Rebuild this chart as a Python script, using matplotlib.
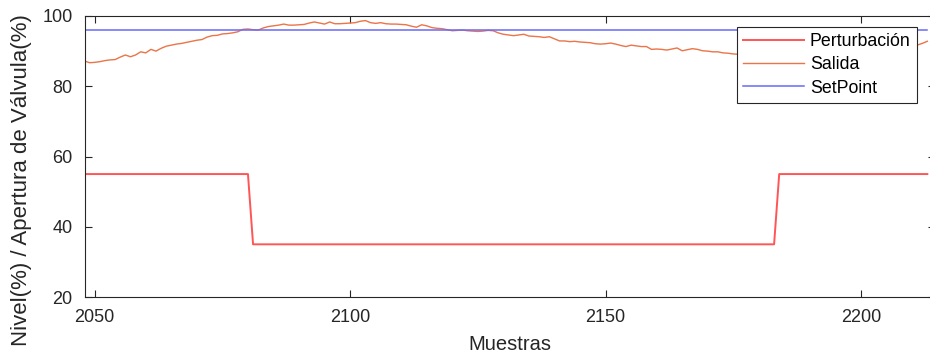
import matplotlib
matplotlib.use('Agg')
import matplotlib.pyplot as plt
import numpy as np

plt.rcParams['font.family'] = ['Liberation Sans', 'DejaVu Sans']

# Sample range shown
muestras = np.arange(2048, 2214)

# Level output (one value per sample)
salida = [
    87.2, 86.7, 86.8, 87.0, 87.3, 87.5, 87.6, 88.3, 88.9, 88.4,   # 2048-2057
    88.9, 89.8, 89.5, 90.5, 90.0, 90.8, 91.4, 91.7, 92.0, 92.2,   # 2058-2067
    92.5, 92.8, 93.1, 93.3, 94.0, 94.4, 94.5, 94.9, 95.0, 95.2,   # 2068-2077
    95.5, 96.2, 96.3, 96.1, 96.0, 96.6, 97.0, 97.2, 97.4, 97.7,   # 2078-2087
    97.4, 97.4, 97.5, 97.6, 98.0, 98.3, 98.0, 97.7, 98.3, 97.8,   # 2088-2097
    97.8, 97.9, 98.0, 98.1, 98.5, 98.7, 98.1, 97.9, 98.1, 97.8,   # 2098-2107
    97.7, 97.7, 97.6, 97.5, 97.1, 96.8, 97.5, 97.2, 96.7, 96.5,   # 2108-2117
    96.4, 96.1, 95.8, 95.9, 96.0, 95.8, 95.7, 95.6, 95.7, 95.9,   # 2118-2127
    95.8, 95.2, 94.8, 94.6, 94.4, 94.6, 94.8, 94.3, 94.2, 94.1,   # 2128-2137
    93.9, 94.1, 93.5, 92.9, 92.9, 92.7, 92.8, 92.6, 92.5, 92.4,   # 2138-2147
    92.1, 92.0, 92.1, 92.3, 92.0, 91.6, 91.3, 91.7, 91.5, 91.3,   # 2148-2157
    91.3, 90.5, 90.6, 90.5, 90.3, 90.6, 90.9, 90.1, 90.4, 90.7,   # 2158-2167
    90.5, 90.1, 90.0, 89.8, 89.8, 89.5, 89.4, 89.2, 89.1, 88.9,   # 2168-2177
    88.7, 88.6, 88.4, 88.3, 88.1, 88.0, 87.8, 87.7, 87.8, 87.6,   # 2178-2187
    87.7, 87.9, 88.0, 88.1, 88.4, 88.6, 88.8, 89.0, 89.2, 89.5,   # 2188-2197
    89.7, 89.9, 90.1, 90.3, 90.5, 90.7, 90.9, 91.0, 91.2, 91.3,   # 2198-2207
    91.5, 91.5, 91.6, 91.7, 92.2, 92.8,                           # 2208-2213
]

# Disturbance (valve opening) levels and where they change
pert_alta = 55
pert_baja = 35
paso_bajada = 2081
paso_subida = 2184
perturbacion = np.where((muestras >= paso_bajada) & (muestras < paso_subida), pert_baja, pert_alta)

setpoint = 96

xticks = [2050, 2100, 2150, 2200]
yticks = [20, 40, 60, 80, 100]

fig = plt.figure(figsize=(9.3, 3.59), dpi=100)
ax = fig.add_axes([85 / 930, 62 / 359, 850 / 930, 281 / 359])

ax.plot(muestras, perturbacion, color='#FF5555', linewidth=1.4, label='Perturbación')
ax.plot(muestras, salida, color='#EB7448', linewidth=1.0, label='Salida')
ax.plot(muestras, np.full(len(muestras), setpoint), color='#6A6AF8', linewidth=1.1, label='SetPoint')

ax.set_xlim(2048.1, 2214.5)
ax.set_ylim(20, 100)
ax.set_xticks(xticks)
ax.set_yticks(yticks)
ax.tick_params(direction='in', length=5, width=0.8, colors='#262626', labelsize=13,
               top=True, right=True, pad=9)
for s in ax.spines.values():
    s.set_color('#262626')
    s.set_linewidth(0.8)

ax.set_xlabel('Muestras', fontsize=14.5, color='#262626', labelpad=6)
fig.text(22 / 930, 1 - 180 / 359, 'Nivel(%) / Apertura de Válvula(%)', rotation=90,
         ha='center', va='center', fontsize=16, color='#262626')

leg = fig.legend(loc='upper left', bbox_to_anchor=(737 / 930, 1 - 27 / 359), borderaxespad=0,
                 fontsize=12.8, handlelength=3.4, handletextpad=0.35, labelspacing=0.35,
                 borderpad=0.35, fancybox=False, framealpha=1, edgecolor='#262626')
leg.get_frame().set_linewidth(0.8)

fig.savefig('out.png', dpi=100)
